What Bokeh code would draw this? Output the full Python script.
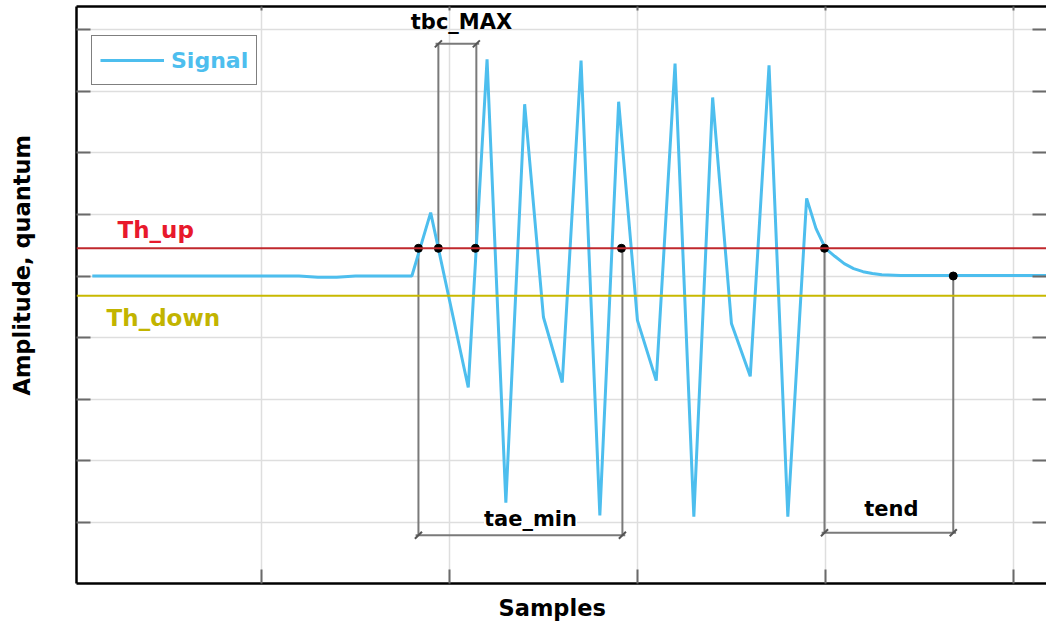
from bokeh.plotting import figure
from bokeh.models import (ColumnDataSource, Range1d, LinearAxis, FixedTicker, Grid,
                          Span, Legend, LegendItem, Label, Title, CustomLabelingPolicy)
from bokeh.embed import file_html
from bokeh.resources import INLINE
import math

# ---- data ----
sample = [1, 2, 3, 4, 5, 6, 7, 8, 9, 10, 11, 12, 13, 14, 15, 16, 17, 18,
          19, 20, 21, 22, 23, 24, 25, 26, 27, 28, 29, 30, 31, 32, 33, 34, 35,
          36, 37, 38, 39, 39.5, 40, 40.5, 41, 41.5, 42, 42.5, 43, 44, 45, 46,
          47, 48, 49, 50, 51, 52]
amplitude = [0, 0, 0, 0, 0, 0, 0, 0, 0, 0, 0, 0, -0.02, -0.02, 0, 0, 0, 0,
             1.03, -0.39, -1.81, 3.52, -3.68, 2.79, -0.67, -1.73, 3.50, -3.89,
             2.83, -0.72, -1.70, 3.45, -3.91, 2.90, -0.77, -1.63, 3.42, -3.91,
             1.26, 0.77, 0.45, 0.32, 0.20, 0.12, 0.07, 0.04, 0.02, 0.01, 0.01,
             0.01, 0.01, 0.01, 0.01, 0.01, 0.01, 0.01]

th_up = 0.45
th_down = -0.32

x_ticks = [10, 20, 30, 40, 50]
y_ticks = [-4, -3, -2, -1, 0, 1, 2, 3, 4]

# event points (black dots)
dot_x = [18.35, 19.41, 21.38, 29.15, 39.95, 46.8]
dot_y = [0.45, 0.45, 0.45, 0.45, 0.45, 0.0]

# dimension annotations
dim_names = ["tbc_MAX", "tae_min", "tend"]
dim_x0 = [19.41, 18.35, 39.95]
dim_x1 = [21.43, 29.2, 46.8]
dim_y0 = [0.45, 0.45, 0.45]
dim_y1 = [0.45, 0.45, 0.0]
dim_level = [3.77, -4.21, -4.17]
dim_text_x = [20.64, 24.31, 43.51]
dim_text_y = [4.12, -3.94, -3.78]

SIGNAL = "#4DBEEE"
GREY = "#7a7a7a"
FONT = "DejaVu Sans"

p = figure(width=1046, height=623,
           x_range=Range1d(0.16, 51.76), y_range=Range1d(-4.994, 4.377),
           output_backend="svg", toolbar_location=None,
           x_axis_location=None, y_axis_location=None,
           min_border_left=76, min_border_right=0, min_border_top=6, min_border_bottom=40)
p.outline_line_color = None
p.background_fill_color = "white"

# grids
p.add_layout(Grid(dimension=0, ticker=FixedTicker(ticks=x_ticks),
                  grid_line_color="#dedede", grid_line_width=1.5))
p.add_layout(Grid(dimension=1, ticker=FixedTicker(ticks=y_ticks),
                  grid_line_color="#dedede", grid_line_width=1.5))

NO_LABELS = "for (const i of indices) { indices.unset(i) }\nreturn indices"

def make_axis(ticks, tick_in, line_color="black", tick_out=0, tick_color="#6a6a6a", tick_alpha=1.0):
    return LinearAxis(ticker=FixedTicker(ticks=ticks), major_tick_in=tick_in, major_tick_out=tick_out,
                      minor_tick_line_color=None, major_label_text_font_size="0px",
                      major_label_policy=CustomLabelingPolicy(code=NO_LABELS),
                      major_label_standoff=0, axis_line_width=2.5, axis_line_color=line_color,
                      major_tick_line_color=tick_color, major_tick_line_alpha=tick_alpha,
                      major_tick_line_width=2)

# visible frame axes
p.add_layout(make_axis(y_ticks, 14), "left")
p.add_layout(make_axis(y_ticks, 14, None), "right")
p.add_layout(make_axis(x_ticks, 14), "below")
p.add_layout(make_axis(x_ticks, 4), "above")
# invisible spacers that push the axis titles outward
p.add_layout(make_axis(y_ticks, 0, None, tick_out=39, tick_color="white", tick_alpha=0.01), "left")
p.add_layout(make_axis(x_ticks, 0, None, tick_out=7, tick_color="white", tick_alpha=0.01), "below")

p.add_layout(Title(text="Amplitude, quantum", align="left", offset=188,
                   text_font=FONT, text_font_style="bold", text_font_size="22.5px",
                   text_color="black", standoff=6), "left")
p.add_layout(Title(text="Samples", align="left", offset=422,
                   text_font=FONT, text_font_style="bold", text_font_size="22.5px",
                   text_color="black", standoff=4), "below")

# thresholds
p.add_layout(Span(location=th_up, dimension="width", line_color="#C0282D", line_width=2))
p.add_layout(Span(location=th_down, dimension="width", line_color="#C8B900", line_width=2))

# dimension lines
seg_x0, seg_y0, seg_x1, seg_y1 = [], [], [], []
end_x, end_y = [], []
for i in range(len(dim_names)):
    seg_x0 += [dim_x0[i], dim_x1[i], dim_x0[i] - 0.15]
    seg_y0 += [dim_y0[i], dim_y1[i], dim_level[i]]
    seg_x1 += [dim_x0[i], dim_x1[i], dim_x1[i] + 0.15]
    seg_y1 += [dim_level[i], dim_level[i], dim_level[i]]
    end_x += [dim_x0[i], dim_x1[i]]
    end_y += [dim_level[i], dim_level[i]]
p.segment(x0=seg_x0, y0=seg_y0, x1=seg_x1, y1=seg_y1, line_color=GREY, line_width=2)
p.scatter(x=end_x, y=end_y, marker="dash", size=10, angle=math.pi / 4,
          line_color="#555555", line_width=2)

# signal
src = ColumnDataSource(dict(x=sample, y=amplitude))
sig = p.line("x", "y", source=src, line_color=SIGNAL, line_width=3)

# dots
p.scatter(x=dot_x, y=dot_y, size=8, color="black")

# labels
for i, name in enumerate(dim_names):
    p.add_layout(Label(x=dim_text_x[i], y=dim_text_y[i], text=name, text_align="center",
                       text_baseline="middle", text_font=FONT, text_font_style="bold",
                       text_font_size="21px", text_color="black",
                       background_fill_color="white" if name != "tbc_MAX" else None))
p.add_layout(Label(x=2.34, y=0.755, text="Th_up", text_align="left", text_baseline="middle",
                   text_font=FONT, text_font_style="bold", text_font_size="23px",
                   text_color="#E8192C"))
p.add_layout(Label(x=1.76, y=-0.674, text="Th_down", text_align="left", text_baseline="middle",
                   text_font=FONT, text_font_style="bold", text_font_size="23px",
                   text_color="#C2B400"))

legend = Legend(items=[LegendItem(label="Signal", renderers=[sig])],
                location=(15, 498), orientation="vertical",
                border_line_color="black", border_line_width=1.5,
                background_fill_color="white", background_fill_alpha=1.0,
                label_text_font=FONT, label_text_font_style="bold",
                label_text_font_size="22px", label_text_color=SIGNAL,
                glyph_width=64, glyph_height=32, label_height=32,
                label_standoff=7, padding=8, margin=0)
p.add_layout(legend)

open("out.html", "w").write(file_html(p, INLINE))
